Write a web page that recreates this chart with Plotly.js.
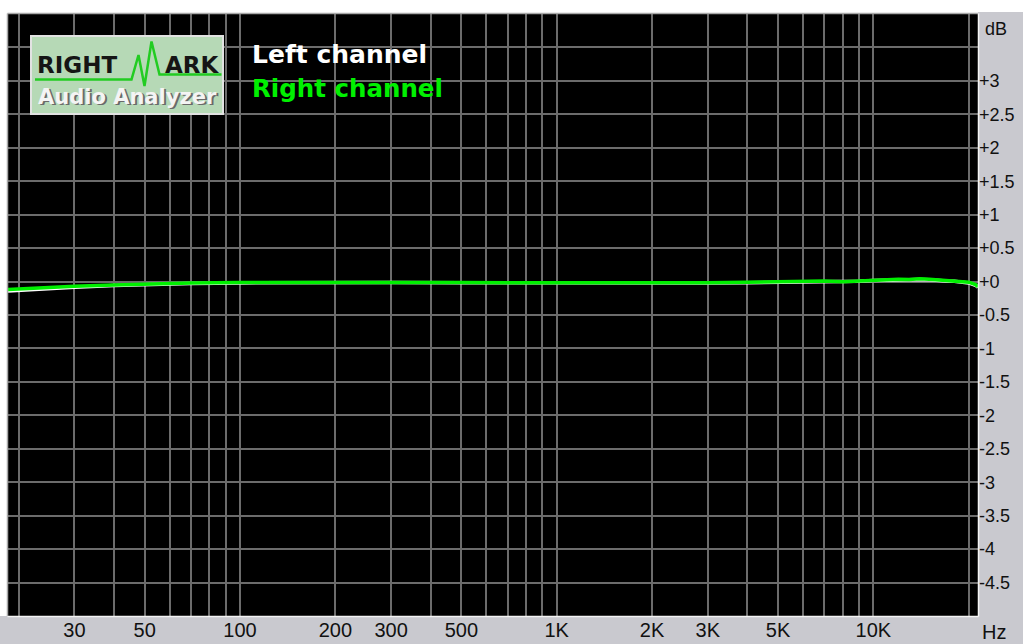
<!DOCTYPE html>
<html>
<head>
<meta charset="utf-8">
<script src="https://cdn.plot.ly/plotly-3.0.1.min.js"></script>
<style>
html,body{margin:0;padding:0;background:#fff;}
#chart{width:1023px;height:644px;}
</style>
</head>
<body>
<div id="chart"></div>
<script>
// ---- data ----
const freqHz = [18.5, 20, 25, 30, 40, 50, 70, 100, 150, 200, 300, 500, 700, 1000, 1500, 2000, 3000, 4000, 5000, 6000, 7000, 8000, 9000, 10000, 11000, 12000, 13000, 14000, 15000, 16000, 17000, 18000, 19000, 20000, 21000, 21400];
const rightDb = [-0.12, -0.11, -0.09, -0.07, -0.05, -0.035, -0.022, -0.015, -0.012, -0.01, -0.012, -0.015, -0.018, -0.02, -0.022, -0.022, -0.018, -0.012, -0.005, 0.0, 0.01, -0.002, 0.012, 0.025, 0.03, 0.036, 0.03, 0.042, 0.036, 0.026, 0.022, 0.015, 0.005, -0.01, -0.045, -0.075];
const leftDb = [-0.14, -0.13, -0.11, -0.085, -0.06, -0.045, -0.03, -0.02, -0.015, -0.012, -0.015, -0.017, -0.02, -0.022, -0.025, -0.025, -0.022, -0.016, -0.01, -0.005, 0.0, -0.005, 0.005, 0.015, 0.022, 0.025, 0.025, 0.03, 0.028, 0.015, 0.01, 0.005, -0.005, -0.02, -0.055, -0.085];

const xGridVals = [20, 30, 40, 50, 60, 70, 80, 90, 100, 200, 300, 400, 500, 600, 700, 800, 900, 1000, 2000, 3000, 4000, 5000, 6000, 7000, 8000, 9000, 10000, 20000];
const xGridText = ["", "30", "", "50", "", "", "", "", "100", "200", "300", "", "500", "", "", "", "", "1K", "2K", "3K", "", "5K", "", "", "", "", "10K", ""];
const yTickVals = [3.5, 3, 2.5, 2, 1.5, 1, 0.5, 0, -0.5, -1, -1.5, -2, -2.5, -3, -3.5, -4, -4.5];
const yTickText = ["", "+3", "+2.5", "+2", "+1.5", "+1", "+0.5", "+0", "-0.5", "-1", "-1.5", "-2", "-2.5", "-3", "-3.5", "-4", "-4.5"];
const seriesNames = ["Left channel", "Right channel"];

// ---- pixel helpers for decorations ----
const W = 1023, H = 644;
const L = 8, R = 978, T = 14, B = 616;
const px = v => (v - L) / (R - L);
const py = v => (B - v) / (B - T);

const traces = [
  {x: freqHz, y: leftDb, type: 'scatter', mode: 'lines', name: seriesNames[0],
   line: {color: '#ffffff', width: 3.5}, hoverinfo: 'skip'},
  {x: freqHz, y: rightDb, type: 'scatter', mode: 'lines', name: seriesNames[1],
   line: {color: '#00f000', width: 3.5}, hoverinfo: 'skip'}
];

const grey = '#c9c9cf';
const spike = [[35,79.5],[131.5,79.5],[138.5,55],[144.5,86],[151.5,41.5],[159.5,74.5],[221.5,74.5]];
const spikePath = spike.map((p, i) => (i ? 'L' : 'M') + px(p[0]).toFixed(5) + ',' + py(p[1]).toFixed(5)).join(' ');

const shapes = [
  {type: 'rect', xref: 'paper', yref: 'paper', layer: 'below', x0: px(R), x1: px(W), y0: py(H), y1: py(12), fillcolor: grey, line: {width: 0}},
  {type: 'rect', xref: 'paper', yref: 'paper', layer: 'below', x0: px(0), x1: px(W), y0: py(H), y1: py(B), fillcolor: grey, line: {width: 0}},
  {type: 'line', xref: 'paper', yref: 'paper', layer: 'above', x0: px(L - 0.5), x1: px(R), y0: py(T - 0.5), y1: py(T - 0.5), line: {color: '#a8a8a8', width: 1.5}},
  {type: 'line', xref: 'paper', yref: 'paper', layer: 'above', x0: px(L - 0.5), x1: px(L - 0.5), y0: py(T - 0.5), y1: py(B), line: {color: '#a8a8a8', width: 1.5}},
  {type: 'line', xref: 'paper', yref: 'paper', layer: 'above', x0: px(R + 0.5), x1: px(R + 0.5), y0: py(T - 0.5), y1: py(B + 0.5), line: {color: '#f4f4f4', width: 1.5}},
  {type: 'line', xref: 'paper', yref: 'paper', layer: 'above', x0: px(L - 0.5), x1: px(R + 0.5), y0: py(B + 0.5), y1: py(B + 0.5), line: {color: '#f4f4f4', width: 1.5}},
  {type: 'rect', xref: 'paper', yref: 'paper', layer: 'above', x0: px(31), x1: px(223), y0: py(114), y1: py(36), fillcolor: '#b6d9b6', line: {color: '#e2e2e2', width: 2}},
  {type: 'path', xref: 'paper', yref: 'paper', layer: 'above', path: spikePath, line: {color: '#22cc22', width: 2.5}}
];

const bold = (size, color) => ({family: 'DejaVu Sans', size: size, color: color, weight: 'bold'});

const annotations = [
  {xref: 'paper', yref: 'paper', x: px(35), y: py(65), xanchor: 'left', yanchor: 'middle', showarrow: false,
   text: 'RIGHT', font: bold(23, '#151515')},
  {xref: 'paper', yref: 'paper', x: px(222), y: py(65), xanchor: 'right', yanchor: 'middle', showarrow: false,
   text: 'ARK', font: bold(23, '#151515')},
  {xref: 'paper', yref: 'paper', x: px(37.5), y: py(98.5), xanchor: 'left', yanchor: 'middle', showarrow: false,
   text: 'Audio Analyzer', font: bold(21, '#6a6a6a')},
  {xref: 'paper', yref: 'paper', x: px(36), y: py(97), xanchor: 'left', yanchor: 'middle', showarrow: false,
   text: 'Audio Analyzer', font: bold(21, '#f4f4f4')},
  {xref: 'paper', yref: 'paper', x: px(250), y: py(55), xanchor: 'left', yanchor: 'middle', showarrow: false,
   text: seriesNames[0], font: bold(25, '#ffffff')},
  {xref: 'paper', yref: 'paper', x: px(250), y: py(88), xanchor: 'left', yanchor: 'middle', showarrow: false,
   text: seriesNames[1], font: bold(24.5, '#00f000')},
  {xref: 'paper', yref: 'paper', x: px(983), y: py(29), xanchor: 'left', yanchor: 'middle', showarrow: false,
   text: 'dB', font: {family: 'Liberation Sans', size: 18, color: '#111'}},
  {xref: 'paper', yref: 'paper', x: px(980), y: py(632), xanchor: 'left', yanchor: 'middle', showarrow: false,
   text: 'Hz', font: {family: 'Liberation Sans', size: 20, color: '#111'}}
];

const layout = {
  width: W, height: H,
  margin: {l: L, r: W - R, t: T, b: H - B, pad: 0},
  paper_bgcolor: '#ffffff',
  plot_bgcolor: '#000000',
  showlegend: false,
  xaxis: {
    type: 'log', range: [Math.log10(18.5), Math.log10(21400)],
    tickmode: 'array', tickvals: xGridVals, ticktext: xGridText,
    showgrid: true, gridcolor: '#6c6c6c', gridwidth: 2,
    zeroline: false, showline: false, ticks: '',
    tickfont: {family: 'Liberation Sans', size: 20, color: '#111'},
    fixedrange: true
  },
  yaxis: {
    side: 'right', range: [-5, 4],
    tickmode: 'array', tickvals: yTickVals, ticktext: yTickText,
    showgrid: true, gridcolor: '#6c6c6c', gridwidth: 2,
    zeroline: false, showline: false, ticks: '',
    tickfont: {family: 'Liberation Sans', size: 18, color: '#111'},
    fixedrange: true
  },
  shapes: shapes,
  annotations: annotations
};

Plotly.newPlot('chart', traces, layout, {staticPlot: true, displayModeBar: false});
</script>
</body>
</html>
